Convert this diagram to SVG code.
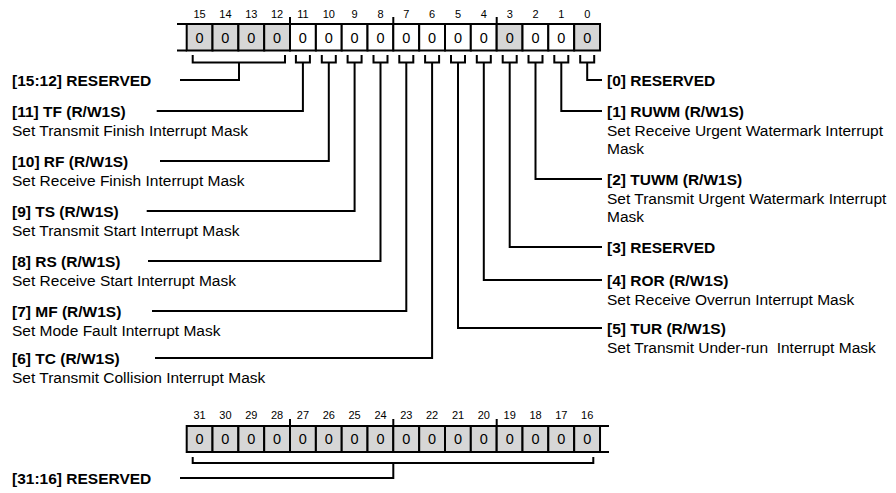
<svg xmlns="http://www.w3.org/2000/svg" width="896" height="493" viewBox="0 0 896 493">
<style>
.bg{fill:#fff}
.c{stroke:#000;stroke-width:2}
.g{fill:#d6d6d6}
.w{fill:#fff}
.v{font-family:"Liberation Sans",Arial,sans-serif;font-size:14.5px;text-anchor:middle;fill:#000}
.b{font-family:"Liberation Sans",Arial,sans-serif;font-size:11px;text-anchor:middle;fill:#000}
.l{font-family:"Liberation Sans",Arial,sans-serif;font-size:15.5px;font-weight:bold;fill:#000}
.d{font-family:"Liberation Sans",Arial,sans-serif;font-size:15.5px;fill:#000}
.ln{fill:none;stroke:#000;stroke-width:2}
</style>
<rect class="bg" x="0" y="0" width="896" height="493"/>

<g id="reg-top">
  <g class="b">
    <text x="199.6" y="17.5">15</text><text x="225.4" y="17.5">14</text><text x="251.3" y="17.5">13</text><text x="277.1" y="17.5">12</text>
    <text x="302.9" y="17.5">11</text><text x="328.8" y="17.5">10</text><text x="354.6" y="17.5">9</text><text x="380.5" y="17.5">8</text>
    <text x="406.3" y="17.5">7</text><text x="432.1" y="17.5">6</text><text x="458" y="17.5">5</text><text x="483.8" y="17.5">4</text>
    <text x="509.7" y="17.5">3</text><text x="535.5" y="17.5">2</text><text x="561.3" y="17.5">1</text><text x="587.2" y="17.5">0</text>
  </g>
  <rect class="c g" x="186.7" y="24" width="25.83" height="26.5"/>
  <rect class="c g" x="212.5" y="24" width="25.83" height="26.5"/>
  <rect class="c g" x="238.4" y="24" width="25.83" height="26.5"/>
  <rect class="c g" x="264.2" y="24" width="25.83" height="26.5"/>
  <rect class="c w" x="290" y="24" width="25.83" height="26.5"/>
  <rect class="c w" x="315.9" y="24" width="25.83" height="26.5"/>
  <rect class="c w" x="341.7" y="24" width="25.83" height="26.5"/>
  <rect class="c w" x="367.5" y="24" width="25.83" height="26.5"/>
  <rect class="c w" x="393.3" y="24" width="25.83" height="26.5"/>
  <rect class="c w" x="419.2" y="24" width="25.83" height="26.5"/>
  <rect class="c w" x="445" y="24" width="25.83" height="26.5"/>
  <rect class="c w" x="470.8" y="24" width="25.83" height="26.5"/>
  <rect class="c g" x="496.7" y="24" width="25.83" height="26.5"/>
  <rect class="c w" x="522.5" y="24" width="25.83" height="26.5"/>
  <rect class="c w" x="548.3" y="24" width="25.83" height="26.5"/>
  <rect class="c g" x="574.2" y="24" width="25.83" height="26.5"/>
  <path class="ln" d="M177 24H187M177 50.5H187M290 17V24M393.3 17V24M496.7 17V24"/>
  <g class="v">
    <text x="199.6" y="42.5">0</text><text x="225.4" y="42.5">0</text><text x="251.3" y="42.5">0</text><text x="277.1" y="42.5">0</text>
    <text x="302.9" y="42.5">0</text><text x="328.8" y="42.5">0</text><text x="354.6" y="42.5">0</text><text x="380.5" y="42.5">0</text>
    <text x="406.3" y="42.5">0</text><text x="432.1" y="42.5">0</text><text x="458" y="42.5">0</text><text x="483.8" y="42.5">0</text>
    <text x="509.7" y="42.5">0</text><text x="535.5" y="42.5">0</text><text x="561.3" y="42.5">0</text><text x="587.2" y="42.5">0</text>
  </g>
</g>

<g id="reg-bottom">
  <g class="b">
    <text x="199.6" y="419">31</text><text x="225.4" y="419">30</text><text x="251.3" y="419">29</text><text x="277.1" y="419">28</text>
    <text x="302.9" y="419">27</text><text x="328.8" y="419">26</text><text x="354.6" y="419">25</text><text x="380.5" y="419">24</text>
    <text x="406.3" y="419">23</text><text x="432.1" y="419">22</text><text x="458" y="419">21</text><text x="483.8" y="419">20</text>
    <text x="509.7" y="419">19</text><text x="535.5" y="419">18</text><text x="561.3" y="419">17</text><text x="587.2" y="419">16</text>
  </g>
  <rect class="c g" x="186.7" y="426" width="25.83" height="26"/>
  <rect class="c g" x="212.5" y="426" width="25.83" height="26"/>
  <rect class="c g" x="238.4" y="426" width="25.83" height="26"/>
  <rect class="c g" x="264.2" y="426" width="25.83" height="26"/>
  <rect class="c g" x="290" y="426" width="25.83" height="26"/>
  <rect class="c g" x="315.9" y="426" width="25.83" height="26"/>
  <rect class="c g" x="341.7" y="426" width="25.83" height="26"/>
  <rect class="c g" x="367.5" y="426" width="25.83" height="26"/>
  <rect class="c g" x="393.3" y="426" width="25.83" height="26"/>
  <rect class="c g" x="419.2" y="426" width="25.83" height="26"/>
  <rect class="c g" x="445" y="426" width="25.83" height="26"/>
  <rect class="c g" x="470.8" y="426" width="25.83" height="26"/>
  <rect class="c g" x="496.7" y="426" width="25.83" height="26"/>
  <rect class="c g" x="522.5" y="426" width="25.83" height="26"/>
  <rect class="c g" x="548.3" y="426" width="25.83" height="26"/>
  <rect class="c g" x="574.2" y="426" width="25.83" height="26"/>
  <path class="ln" d="M600 426H609M600 452H609M290 419V426M393.3 419V426M496.7 419V426"/>
  <g class="v">
    <text x="199.6" y="444.3">0</text><text x="225.4" y="444.3">0</text><text x="251.3" y="444.3">0</text><text x="277.1" y="444.3">0</text>
    <text x="302.9" y="444.3">0</text><text x="328.8" y="444.3">0</text><text x="354.6" y="444.3">0</text><text x="380.5" y="444.3">0</text>
    <text x="406.3" y="444.3">0</text><text x="432.1" y="444.3">0</text><text x="458" y="444.3">0</text><text x="483.8" y="444.3">0</text>
    <text x="509.7" y="444.3">0</text><text x="535.5" y="444.3">0</text><text x="561.3" y="444.3">0</text><text x="587.2" y="444.3">0</text>
  </g>
</g>

<g id="connectors" class="ln">
  <path d="M192.7 55V62.5H285V55M239 62.5V80H180"/>
  <path d="M295.9 55V62.5H309.9V55M302.9 62.5V111H156.7"/>
  <path d="M321.8 55V62.5H335.8V55M328.8 62.5V161H160"/>
  <path d="M347.6 55V62.5H361.6V55M354.6 62.5V211H146.7"/>
  <path d="M373.5 55V62.5H387.5V55M380.5 62.5V261H148"/>
  <path d="M399.3 55V62.5H413.3V55M406.3 62.5V311H152"/>
  <path d="M425.1 55V62.5H439.1V55M432.1 62.5V358H155"/>
  <path d="M451 55V62.5H465V55M458 62.5V328H602"/>
  <path d="M476.8 55V62.5H490.8V55M483.8 62.5V280H602"/>
  <path d="M502.7 55V62.5H516.7V55M509.7 62.5V247H602"/>
  <path d="M528.5 55V62.5H542.5V55M535.5 62.5V179H602"/>
  <path d="M554.3 55V62.5H568.3V55M561.3 62.5V111H602"/>
  <path d="M580.2 55V62.5H594.2V55M587.2 62.5V80H602"/>
  <path d="M192.7 457V463H593.3V457M393.3 463V478H180"/>
</g>

<g id="f15-12"><text class="l" x="12" y="86">[15:12] RESERVED</text></g>
<g id="f11"><text class="l" x="12" y="117">[11] TF (R/W1S)</text><text class="d" x="12" y="135.5">Set Transmit Finish Interrupt Mask</text></g>
<g id="f10"><text class="l" x="12" y="167">[10] RF (R/W1S)</text><text class="d" x="12" y="185.5">Set Receive Finish Interrupt Mask</text></g>
<g id="f9"><text class="l" x="12" y="217">[9] TS (R/W1S)</text><text class="d" x="12" y="235.5">Set Transmit Start Interrupt Mask</text></g>
<g id="f8"><text class="l" x="12" y="267">[8] RS (R/W1S)</text><text class="d" x="12" y="285.5">Set Receive Start Interrupt Mask</text></g>
<g id="f7"><text class="l" x="12" y="317">[7] MF (R/W1S)</text><text class="d" x="12" y="335.5">Set Mode Fault Interrupt Mask</text></g>
<g id="f6"><text class="l" x="12" y="364">[6] TC (R/W1S)</text><text class="d" x="12" y="383">Set Transmit Collision Interrupt Mask</text></g>
<g id="f0"><text class="l" x="607" y="86">[0] RESERVED</text></g>
<g id="f1"><text class="l" x="607" y="117">[1] RUWM (R/W1S)</text><text class="d" x="607" y="135.5">Set Receive Urgent Watermark Interrupt</text><text class="d" x="607" y="154">Mask</text></g>
<g id="f2"><text class="l" x="607" y="185">[2] TUWM (R/W1S)</text><text class="d" x="607" y="203.5">Set Transmit Urgent Watermark Interrupt</text><text class="d" x="607" y="222">Mask</text></g>
<g id="f3"><text class="l" x="607" y="253">[3] RESERVED</text></g>
<g id="f4"><text class="l" x="607" y="286">[4] ROR (R/W1S)</text><text class="d" x="607" y="304.5">Set Receive Overrun Interrupt Mask</text></g>
<g id="f5"><text class="l" x="607" y="334">[5] TUR (R/W1S)</text><text class="d" x="607" y="352.5" xml:space="preserve">Set Transmit Under-run  Interrupt Mask</text></g>
<g id="f31-16"><text class="l" x="12" y="484">[31:16] RESERVED</text></g>
</svg>
